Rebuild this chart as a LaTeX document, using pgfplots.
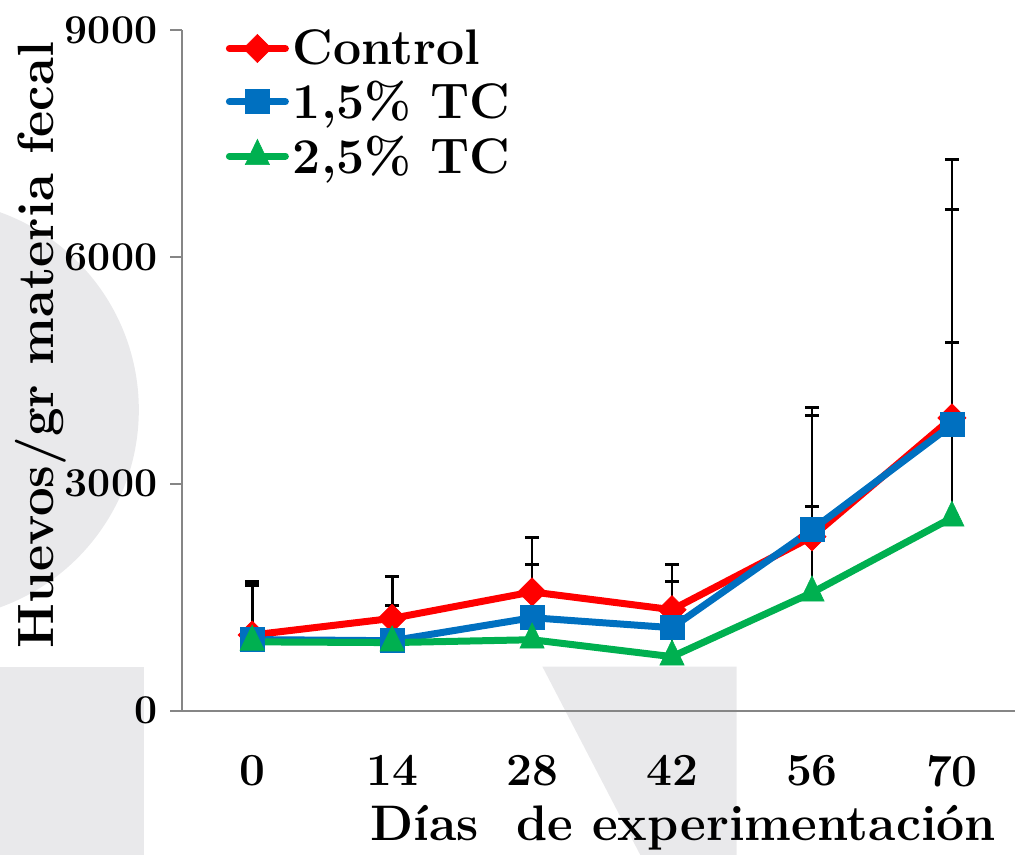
\documentclass[border=0pt]{standalone}
\usepackage{fontspec}
\usepackage{pgfplots}
\pgfplotsset{compat=1.18}
\definecolor{cred}{RGB}{255,0,0}
\definecolor{cblue}{RGB}{0,112,192}
\definecolor{cgreen}{RGB}{0,176,80}
\definecolor{wm}{RGB}{233,233,235}
\definecolor{axgray}{RGB}{134,134,134}
\begin{document}
\begin{tikzpicture}
\begin{axis}[
  set layers=standard,
  scale only axis,
  width=416.5pt, height=340.5pt,
  xmin=-0.5, xmax=5.45, ymin=0, ymax=9000,
  clip=false,
  axis lines*=left,
  axis line style={axgray, line width=1pt},
  tick align=outside,
  major tick length=6pt,
  xtick={0,1,2,3,4,5}, xticklabels={0,14,28,42,56,70},
  ytick={0,3000,6000,9000}, yticklabels={0,3000,6000,9000},
  every x tick/.style={draw=none},
  every y tick/.style={axgray, line width=1pt},
  /pgf/number format/assume math mode=true,
  yticklabel style={font=\fontsize{20.5}{22}\selectfont\bfseries, anchor=east, xshift=-3pt},
  xticklabel style={font=\fontsize{23}{24}\selectfont\bfseries, anchor=north, yshift=-13pt},
  xlabel={Días\ \ de experimentación},
  ylabel={Huevos/gr materia fecal},
  xlabel style={at={(0.602,-0.172)}, anchor=center, font=\fontsize{25}{28}\selectfont\bfseries},
  ylabel style={at={(-0.170,0.537)}, anchor=center, font=\fontsize{25.5}{28}\selectfont\bfseries},
  legend style={at={(0.052,1.007)}, anchor=north west, draw=none, fill=none,
    font=\fontsize{25}{28}\selectfont\bfseries, inner sep=0pt, row sep=3pt,
    nodes={inner sep=2pt}},
  legend cell align=left,
  legend image code/.code={\draw[mark repeat=2,mark phase=2,#1] plot coordinates {(0pt,0pt) (14pt,0pt) (28pt,0pt)};},
]
\begin{pgfonlayer}{axis background}
\fill[wm] (axis cs:-2.31,3978) circle[radius=105pt];
\fill[wm] (axis cs:-1.95,581) rectangle (axis cs:-0.773,-1950);
\fill[wm] (axis cs:2.074,581) -- (axis cs:3.462,581) -- (axis cs:3.462,-1950) -- (axis cs:2.785,-1950) -- cycle;
\end{pgfonlayer}
\coordinate (BL) at (axis cs:-1.802,-1903);
\coordinate (TR) at (axis cs:5.465,9396);

% error bars (drawn behind lines)
\addplot[forget plot, only marks, mark=none,
  error bars/.cd, y dir=plus, y explicit,
  error bar style={draw=black, line width=1.4pt},
  error mark=-,
  error mark options={rotate=90, draw=black, line width=1.4pt, mark size=3.4pt}]
  coordinates {(0,1000) +- (0,710) (1,1220) +- (0,550) (2,1570) +- (0,716) (3,1335) +- (0,594) (4,2300) +- (0,1708) (5,3870) +- (0,3420)};
\addplot[forget plot, only marks, mark=none,
  error bars/.cd, y dir=plus, y explicit,
  error bar style={draw=black, line width=1.4pt},
  error mark=-,
  error mark options={rotate=90, draw=black, line width=1.4pt, mark size=3.4pt}]
  coordinates {(0,940) +- (0,740) (1,925) +- (0,465) (2,1229) +- (0,700) (3,1097) +- (0,612) (4,2392) +- (0,1506) (5,3780) +- (0,2850)};
\addplot[forget plot, only marks, mark=none,
  error bars/.cd, y dir=plus, y explicit,
  error bar style={draw=black, line width=1.4pt},
  error mark=-,
  error mark options={rotate=90, draw=black, line width=1.4pt, mark size=3.4pt}]
  coordinates {(0,910) +- (0,740) (1,900) +- (0,150) (2,938) +- (0,350) (3,714) +- (0,450) (4,1560) +- (0,1140) (5,2550) +- (0,2322)};

\addplot[cred, line width=3.5pt, line cap=round, mark=square*, mark size=5pt,
  mark options={rotate=45, line width=0.3pt, fill=cred, draw=cred}]
  coordinates {(0,1000) (1,1220) (2,1570) (3,1335) (4,2300) (5,3870)};
\addlegendentry{Control}
\addplot[cblue, line width=3.5pt, line cap=round, mark=square*, mark size=6pt,
  mark options={line width=0.3pt, fill=cblue, draw=cblue}]
  coordinates {(0,940) (1,925) (2,1229) (3,1097) (4,2392) (5,3780)};
\addlegendentry{1,5\% TC}
\addplot[cgreen, line width=3.5pt, line cap=round, mark=triangle*, mark size=7pt,
  mark options={yscale=1.2, line width=0.3pt, fill=cgreen, draw=cgreen}]
  coordinates {(0,910) (1,900) (2,938) (3,714) (4,1560) (5,2550)};
\addlegendentry{2,5\% TC}
\end{axis}
\pgfresetboundingbox
\path[use as bounding box] (BL) rectangle (TR);
\end{tikzpicture}
\end{document}
